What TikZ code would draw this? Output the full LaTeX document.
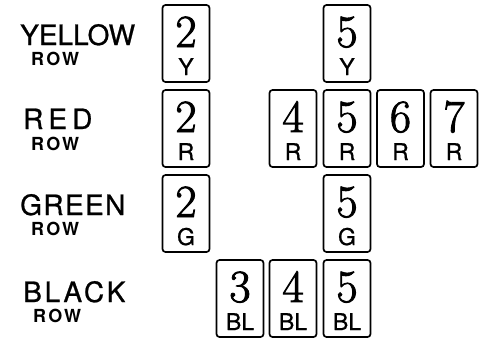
\documentclass[tikz,border=0pt]{standalone}
\usepackage{fontspec}
\setsansfont{TeX Gyre Heros}
\newfontfamily\cifra[FakeBold=2]{Latin Modern Roman}
\newfontfamily\rotulo[FakeBold=0.8]{TeX Gyre Heros}

\begin{document}
\begin{tikzpicture}[x=1pt, y=-1pt,
  carta/.style={draw, line width=1.7pt, rounded corners=3pt, inner sep=0pt,
                minimum width=47pt, minimum height=77pt},
  digito/.style={anchor=base, inner sep=0pt, font=\cifra\fontsize{46}{46}\selectfont},
  letra/.style={anchor=base, inner sep=0pt, font=\rotulo\fontsize{23}{23}\selectfont},
  fila/.style={anchor=base west, inner sep=0pt, font=\rotulo\fontsize{28}{28}\selectfont},
  pie/.style={anchor=base west, inner sep=0pt,
              font=\sffamily\bfseries\fontsize{18}{18}\selectfont\addfontfeature{LetterSpace=12}}]
  \useasboundingbox (0,0) rectangle (481,338);
  % --- etiquetas de fila ---
  \node[fila] (yellow) at (20,45) {YELLOW};
  \node[pie] (yellowrow) at (31,65) {ROW};
  \node[fila] (red) at (23,129) {\addfontfeature{LetterSpace=18}RED};
  \node[pie] (redrow) at (31,150) {ROW};
  \node[fila] (green) at (20,215) {\addfontfeature{LetterSpace=5}GREEN};
  \node[pie] (greenrow) at (31,235) {ROW};
  \node[fila] (black) at (23,302) {\addfontfeature{LetterSpace=10}BLACK};
  \node[pie] (blackrow) at (33,322) {ROW};
  % --- cartas: numero / color / centro x / centro y ---
  \foreach \d/\l/\x/\y in {2/Y/186/43.5, 5/Y/347/43.5,
      2/R/186/128.5, 4/R/293/128.5, 5/R/347/128.5, 6/R/400.5/128.5, 7/R/454/128.5,
      2/G/186/213.5, 5/G/347/213.5,
      3/BL/240/298.5, 4/BL/293/298.5, 5/BL/347/298.5} {
    \node[carta] (c\d\l) at (\x,\y) {};
    \node[digito] (d\d\l) at ({\x},{\y+3.5}) {\d};
    \node[letra] (l\d\l) at ({\x},{\y+31.5}) {\l};
  }
\end{tikzpicture}
\end{document}
